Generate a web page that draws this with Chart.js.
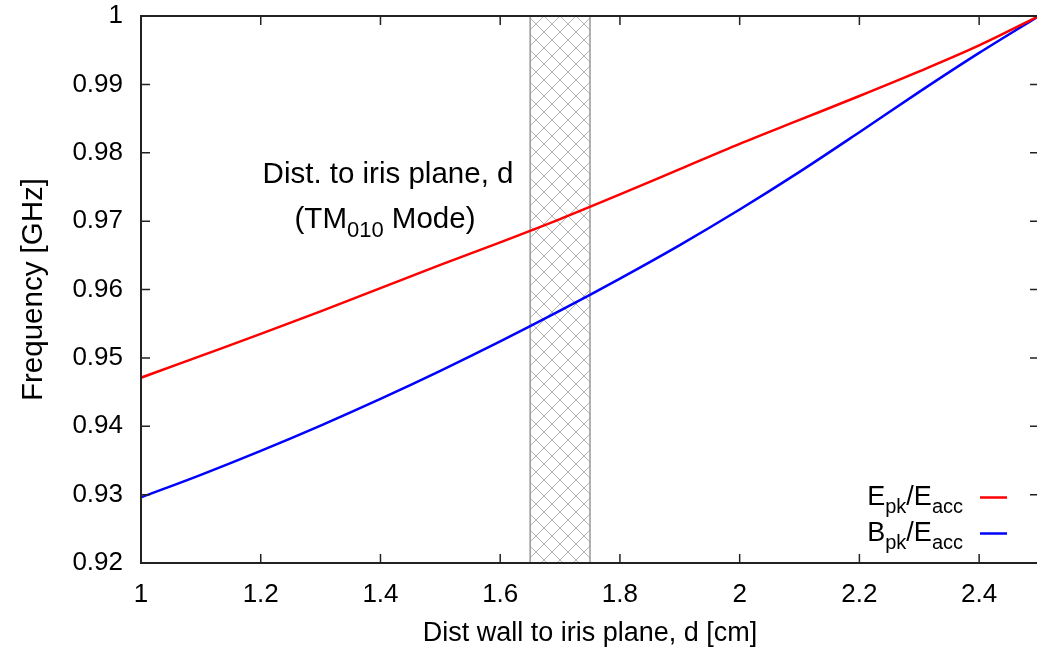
<!DOCTYPE html>
<html>
<head>
<meta charset="utf-8">
<script src="https://cdn.jsdelivr.net/npm/chart.js@4"></script>
<style>
  html, body { margin: 0; padding: 0; background: #fff; overflow: hidden; }
  #wrap { width: 1040px; height: 656px; }
</style>
</head>
<body>
<div id="wrap"><canvas id="chart" width="1040" height="656"></canvas></div>
<script>
// values
const dist = [1.0, 1.1, 1.2, 1.3, 1.4, 1.5, 1.6, 1.7, 1.8, 1.9, 2.0, 2.1, 2.2, 2.3, 2.4, 2.5];
const epkFreq = [0.9471, 0.9503, 0.9535, 0.9568, 0.9602, 0.9636, 0.9669, 0.9703, 0.9739, 0.9776, 0.9813, 0.9848, 0.9883, 0.9919, 0.9957, 1.0];
const bpkFreq = [0.9296, 0.9329, 0.9364, 0.9401, 0.9440, 0.9481, 0.9524, 0.9569, 0.9616, 0.9665, 0.9717, 0.9772, 0.9830, 0.9889, 0.9946, 1.0];
const xTicks = [1, 1.2, 1.4, 1.6, 1.8, 2, 2.2, 2.4];
const yTicks = [0.92, 0.93, 0.94, 0.95, 0.96, 0.97, 0.98, 0.99, 1];
const yTickLabels = ['0.92', '0.93', '0.94', '0.95', '0.96', '0.97', '0.98', '0.99', '1'];
const band = [1.65, 1.75];

const FONT = 'Liberation Sans, Arial, Helvetica, sans-serif';
const AXIS = '#222';

const toPts = (xs, ys) => xs.map((x, i) => ({ x, y: ys[i] }));

// cross hatch tile for the band
const hatch = (() => {
  const n = 16;
  const c = document.createElement('canvas');
  c.width = n; c.height = n;
  const g = c.getContext('2d');
  g.strokeStyle = '#b4b4b4';
  g.lineWidth = 1;
  g.beginPath();
  g.moveTo(0, 0); g.lineTo(n, n);
  g.moveTo(n, 0); g.lineTo(0, n);
  g.stroke();
  return c;
})();

// text with subscripts, parts like {t:'pk', sub:true}
function richText(ctx, parts, x, y, align, size) {
  const subSize = Math.round(size * 0.75);
  const w = parts.reduce((s, p) => {
    ctx.font = `${p.sub ? subSize : size}px ${FONT}`;
    return s + ctx.measureText(p.t).width;
  }, 0);
  let cx = align === 'right' ? x - w : align === 'center' ? x - w / 2 : x;
  ctx.textAlign = 'left';
  ctx.textBaseline = 'alphabetic';
  parts.forEach(p => {
    ctx.font = `${p.sub ? subSize : size}px ${FONT}`;
    ctx.fillText(p.t, cx, y + (p.sub ? size * 0.3 : 0));
    cx += ctx.measureText(p.t).width;
  });
  return w;
}

const decor = {
  id: 'decor',
  beforeDatasetsDraw(chart) {
    const { ctx, chartArea: a, scales: { x } } = chart;
    const x0 = x.getPixelForValue(band[0]);
    const x1 = x.getPixelForValue(band[1]);
    ctx.save();
    ctx.fillStyle = ctx.createPattern(hatch, 'repeat');
    ctx.fillRect(x0, a.top, x1 - x0, a.bottom - a.top);
    ctx.strokeStyle = '#999';
    ctx.lineWidth = 1.5;
    ctx.beginPath();
    ctx.moveTo(x0, a.top); ctx.lineTo(x0, a.bottom);
    ctx.moveTo(x1, a.top); ctx.lineTo(x1, a.bottom);
    ctx.stroke();

    ctx.fillStyle = '#000';
    richText(ctx, [{ t: 'Dist. to iris plane, d' }], 388, 183, 'center', 29.5);
    richText(ctx, [{ t: '(TM' }, { t: '010', sub: true }, { t: ' Mode)' }], 385, 228, 'center', 29.5);
    ctx.restore();
  },
  afterDraw(chart) {
    const { ctx, chartArea: a, scales: { x, y } } = chart;
    ctx.save();
    ctx.strokeStyle = AXIS;
    ctx.lineWidth = 1.5;
    const tl = 9;
    ctx.beginPath();
    xTicks.forEach(v => {
      const px = x.getPixelForValue(v);
      ctx.moveTo(px, a.bottom); ctx.lineTo(px, a.bottom - tl);
      ctx.moveTo(px, a.top); ctx.lineTo(px, a.top + tl);
    });
    yTicks.forEach(v => {
      const py = y.getPixelForValue(v);
      ctx.moveTo(a.left, py); ctx.lineTo(a.left + tl, py);
      ctx.moveTo(a.right, py); ctx.lineTo(a.right - tl, py);
    });
    ctx.stroke();
    ctx.lineWidth = 2;
    ctx.strokeRect(a.left, a.top, a.right - a.left, a.bottom - a.top);

    // legend
    ctx.fillStyle = '#000';
    const rows = [
      { parts: [{ t: 'E' }, { t: 'pk', sub: true }, { t: '/E' }, { t: 'acc', sub: true }], color: '#ff0000', y: 505 },
      { parts: [{ t: 'B' }, { t: 'pk', sub: true }, { t: '/E' }, { t: 'acc', sub: true }], color: '#0000ff', y: 541 }
    ];
    rows.forEach(r => {
      richText(ctx, r.parts, 963, r.y, 'right', 27);
      ctx.strokeStyle = r.color;
      ctx.lineWidth = 2.5;
      ctx.beginPath();
      ctx.moveTo(980, r.y - 7.5); ctx.lineTo(1007, r.y - 7.5);
      ctx.stroke();
    });
    ctx.restore();
  }
};

new Chart(document.getElementById('chart'), {
  type: 'line',
  data: {
    datasets: [
      { label: 'Epk/Eacc', data: toPts(dist, epkFreq), borderColor: '#ff0000', borderWidth: 2.5, pointRadius: 0, cubicInterpolationMode: 'monotone', fill: false },
      { label: 'Bpk/Eacc', data: toPts(dist, bpkFreq), borderColor: '#0000ff', borderWidth: 2.5, pointRadius: 0, cubicInterpolationMode: 'monotone', fill: false }
    ]
  },
  options: {
    responsive: false,
    animation: false,
    layout: { padding: { top: 16, right: 1, left: 0, bottom: 0 } },
    plugins: { legend: { display: false }, tooltip: { enabled: false } },
    scales: {
      x: {
        type: 'linear', min: 1, max: 2.5,
        afterBuildTicks: s => { s.ticks = xTicks.map(v => ({ value: v })); },
        afterFit: s => { s.height = 93; s.paddingLeft = 0; s.paddingRight = 0; },
        grid: { display: false, drawTicks: false },
        border: { display: false },
        ticks: { color: '#000', padding: 16, font: { family: FONT, size: 26 }, maxRotation: 0, callback: v => String(v) },
        title: { display: true, text: 'Dist wall to iris plane, d [cm]', color: '#000', font: { family: FONT, size: 27 }, padding: { top: 0, bottom: 6 } }
      },
      y: {
        type: 'linear', min: 0.92, max: 1,
        afterBuildTicks: s => { s.ticks = yTicks.map(v => ({ value: v })); },
        afterFit: s => { s.width = 141; s.paddingTop = 0; s.paddingBottom = 0; },
        grid: { display: false, drawTicks: false },
        border: { display: false },
        ticks: { color: '#000', padding: 18, font: { family: FONT, size: 26 }, callback: (v, i) => yTickLabels[i] },
        title: { display: true, text: 'Frequency [GHz]', color: '#000', font: { family: FONT, size: 29.5 }, padding: { top: 16, bottom: 0 } }
      }
    }
  },
  plugins: [decor]
});
</script>
</body>
</html>
